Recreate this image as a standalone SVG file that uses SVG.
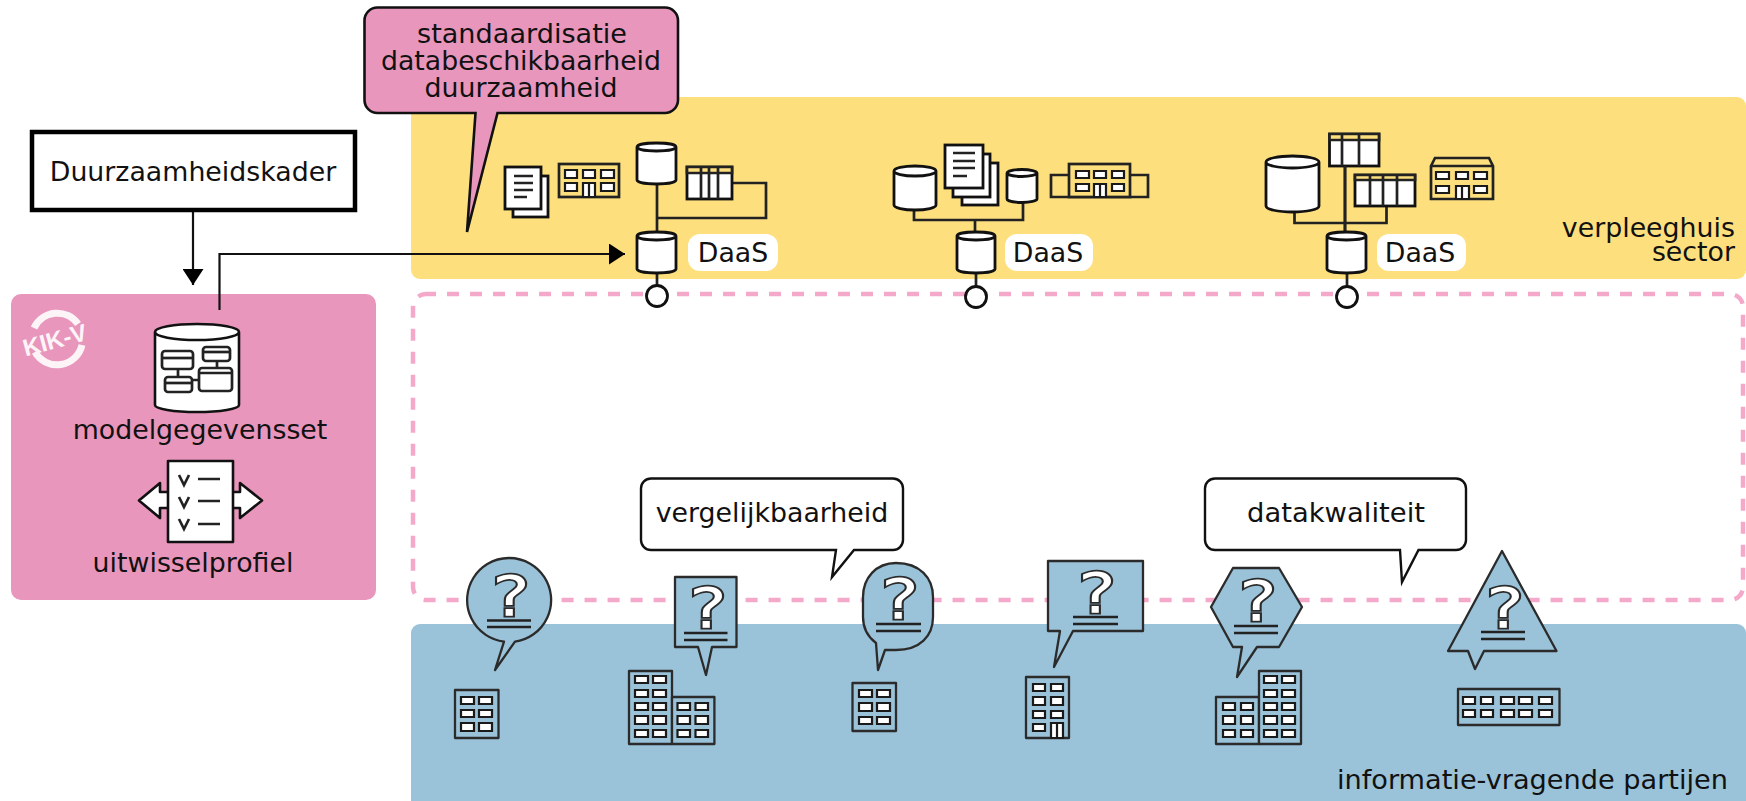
<svg xmlns="http://www.w3.org/2000/svg" width="1746" height="801" viewBox="0 0 1746 801">
<style>
.t{font-family:"DejaVu Sans",Verdana,sans-serif;font-size:26.8px;fill:#111;text-anchor:middle}
.e{text-anchor:end}
.k{fill:none;stroke:#111;stroke-width:2.2}
.w{fill:#fff;stroke:#111;stroke-width:2.6;stroke-linejoin:round}
.l{fill:none;stroke:#222;stroke-width:2.7}
.y{fill:#fedf7e;stroke:#222;stroke-width:2.7}
.b{fill:#9ac2d8;stroke:#2b2b2b;stroke-width:2.3;stroke-linejoin:round}
.win{fill:#fff;stroke:#1a1a1a;stroke-width:2.2}
.q{font-family:"DejaVu Sans",Verdana,sans-serif;font-size:56px;fill:#fff;stroke:#2b2b2b;stroke-width:3.4;paint-order:stroke;text-anchor:middle}
.c{fill:#fff;stroke:#111;stroke-width:2.8}
</style>
<defs><marker id="arrow" markerUnits="userSpaceOnUse" markerWidth="17" markerHeight="21" refX="16" refY="10.5" orient="auto"><path d="M0 0L16 10.5L0 21z" fill="#000"/></marker></defs>

<g id="regions">
<rect x="411" y="97" width="1335" height="182" rx="9" fill="#fedf7e"/>
<rect x="411" y="624" width="1335" height="190" rx="9" fill="#9ac2d8"/>
<rect x="413" y="294" width="1330" height="306" rx="13" fill="none" stroke="#f4a9cb" stroke-width="4.500" stroke-dasharray="12 11" stroke-dashoffset="2"/>
</g>

<g id="kikv">
<rect x="11" y="294" width="365" height="306" rx="10" fill="#e896bc"/>
<path d="M34 328A25.500 25.500 0 0 1 78 324M35 352A25.500 25.500 0 0 0 82 345" fill="none" stroke="#fdf4f8" stroke-width="7"/>
<text transform="translate(57 348) rotate(-15)" font-family="'Liberation Sans',Arial,sans-serif" font-weight="700" font-size="24" fill="#fdf4f8" text-anchor="middle">KIK-V</text>
</g>

<g id="connectors">
<path d="M193 210V285" class="k" marker-end="url(#arrow)"/>
<path d="M219.500 310V254H625" class="k" marker-end="url(#arrow)"/>
<path d="M657 184V232M657 273V286M657 218H766V183H732" class="l"/>
<path d="M914 210V220H1023V202M975 220V232M976 273V286" class="l"/>
<path d="M1294.500 212V223H1386.500V206M1345 166V232M1347 273V286" class="l"/>
</g>

<g id="duurzaamheidskader">
<rect x="32" y="132" width="323" height="78" fill="#fff" stroke="#000" stroke-width="4.500"/>
<text class="t" x="193" y="181">Duurzaamheidskader</text>
</g>

<g id="modelgegevensset">
<path d="M155 332V405A42 7 0 0 0 239 405V332A42 8 0 0 0 155 332A42 8 0 0 0 239 332" class="w"/>
<g class="l"><rect x="162" y="351" width="31" height="18" rx="3"/><path d="M162 358H193"/><rect x="203" y="347" width="27" height="14" rx="3"/><path d="M203 352H230"/><rect x="165" y="377" width="27" height="15" rx="3"/><path d="M165 383H192"/><rect x="199" y="368" width="33" height="23" rx="3"/><path d="M199 373H232M178 369V377M217 361V368M192 380H199"/></g>
<text class="t" x="200" y="439">modelgegevensset</text>
</g>

<g id="uitwisselprofiel">
<path d="M168 492H160V483L139 500.500L160 518V508H168M233 492H240V483L262 500.500L240 518V508H233" class="w"/>
<rect x="168" y="461" width="65" height="81" class="w"/>
<path d="M179 475L184 485L189 475M198 479H220M179 497L184 507L189 497M198 501H220M179 519L184 529L189 519M198 524H220" class="l"/>
<text class="t" x="193" y="572">uitwisselprofiel</text>
</g>

<g id="callout-standaardisatie">
<path d="M378 7.500H665A13 13 0 0 1 678 20.500V100A13 13 0 0 1 665 113H497.500L467 232L475.500 113H378A13 13 0 0 1 364.500 100V20.500A13 13 0 0 1 378 7.500Z" fill="#e896bc" stroke="#111" stroke-width="2.6"/>
<text class="t" x="522" y="43" textLength="210" lengthAdjust="spacingAndGlyphs">standaardisatie</text>
<text class="t" x="521" y="70" textLength="280" lengthAdjust="spacingAndGlyphs">databeschikbaarheid</text>
<text class="t" x="521" y="97" textLength="193" lengthAdjust="spacingAndGlyphs">duurzaamheid</text>
</g>

<g id="daas-1">
<rect x="513" y="176" width="35" height="41" class="c"/>
<rect x="505" y="167" width="36" height="42" class="c"/>
<path d="M514 176H533M514 183H533M514 190H533M514 197H527" class="l"/>
<rect x="559" y="164" width="60" height="33" class="y"/>
<path d="M565 170h12v8h-12zM583 170h12v8h-12zM601 170h13v8h-13zM565 183h12v8h-12zM601 183h13v8h-13zM583 183h12v14h-12zM589 183v14" class="win"/>
<path d="M637 147V180A19.500 4 0 0 0 676 180V147A19.500 4 0 0 0 637 147A19.500 4 0 0 0 676 147" class="c"/>
<rect x="687" y="167" width="45" height="32" class="c"/>
<path d="M687 167H732V173H687z" class="y"/>
<path d="M701 167V199M709 167V199M718 167V199" class="l"/>
<path d="M637 236V269A19.500 4 0 0 0 676 269V236A19.500 4 0 0 0 637 236A19.500 4 0 0 0 676 236" class="c"/>
<circle cx="657" cy="296" r="10.500" class="c"/>
<rect x="688" y="234" width="90" height="37" rx="12" fill="#fff"/>
<text class="t" x="733" y="262">DaaS</text>
</g>

<g id="daas-2">
<path d="M894 171V205A21 5 0 0 0 936 205V171A21 5 0 0 0 894 171A21 5 0 0 0 936 171" class="c"/>
<rect x="962" y="163" width="36" height="42" class="c"/>
<rect x="953" y="154" width="37" height="43" class="c"/>
<rect x="945" y="145" width="38" height="43" class="c"/>
<path d="M953 153H975M953 161H975M953 168H975M953 176H967" class="l"/>
<path d="M1007 173V199A15 3.500 0 0 0 1037 199V173A15 3.500 0 0 0 1007 173A15 3.500 0 0 0 1037 173" class="c"/>
<path d="M1051 175H1148V197H1051z" class="y"/>
<rect x="1069" y="164" width="61" height="33" class="y"/>
<path d="M1076 171h13v7h-13zM1094 171h12v7h-12zM1112 171h12v7h-12zM1076 184h13v7h-13zM1112 184h12v7h-12zM1094 184h12v13h-12zM1100 184v13" class="win"/>
<path d="M957 236V269A19 4 0 0 0 995 269V236A19 4 0 0 0 957 236A19 4 0 0 0 995 236" class="c"/>
<circle cx="976" cy="297" r="10.500" class="c"/>
<rect x="1005" y="234" width="88" height="37" rx="12" fill="#fff"/>
<text class="t" x="1048" y="262">DaaS</text>
</g>

<g id="daas-3">
<path d="M1266 162V206A26.500 6 0 0 0 1319 206V162A26.500 6 0 0 0 1266 162A26.500 6 0 0 0 1319 162" class="c"/>
<rect x="1329.500" y="134" width="49.500" height="32" class="c"/>
<path d="M1329.500 134H1379V140H1329.500z" class="y"/>
<path d="M1342 134V166M1359 134V166" class="l"/>
<rect x="1355" y="175" width="60" height="31" class="c"/>
<path d="M1355 175H1415V180H1355z" class="y"/>
<path d="M1370 175V206M1383 175V206M1397 175V206" class="l"/>
<path d="M1345 166V232" class="l"/>
<path d="M1431 166L1435 158H1489L1493 166V199H1431z" class="y"/>
<path d="M1431 166H1493" class="l"/>
<path d="M1436 172h13v7h-13zM1456 172h12v7h-12zM1474 172h13v7h-13zM1436 186h13v7h-13zM1474 186h13v7h-13zM1456 186h13v13h-13zM1462 186v13" class="win"/>
<path d="M1327 236V269A19.500 4 0 0 0 1366 269V236A19.500 4 0 0 0 1327 236A19.500 4 0 0 0 1366 236" class="c"/>
<circle cx="1347" cy="297" r="10.500" class="c"/>
<rect x="1377" y="234" width="89" height="37" rx="12" fill="#fff"/>
<text class="t" x="1420" y="262">DaaS</text>
</g>

<g id="label-sector">
<text class="t e" x="1735" y="237">verpleeghuis</text>
<text class="t e" x="1735" y="261">sector</text>
</g>

<g id="callout-vergelijkbaarheid">
<path d="M651 478.500H893A10 10 0 0 1 903 488.500V540A10 10 0 0 1 893 550H854L832 577L836 550H651A10 10 0 0 1 641 540V488.500A10 10 0 0 1 651 478.500Z" fill="#fff" stroke="#111" stroke-width="2.400"/>
<text class="t" x="772" y="522">vergelijkbaarheid</text>
</g>

<g id="callout-datakwaliteit">
<path d="M1215 478.500H1456A10 10 0 0 1 1466 488.500V540A10 10 0 0 1 1456 550H1418.500L1402 582L1400 550H1215A10 10 0 0 1 1205 540V488.500A10 10 0 0 1 1215 478.500Z" fill="#fff" stroke="#111" stroke-width="2.400"/>
<text class="t" x="1336" y="522" textLength="178" lengthAdjust="spacingAndGlyphs">datakwaliteit</text>
</g>

<g id="vraag-1">
<path d="M504 641.700A42 42 0 1 1 515 641.600L495 670Z" class="b"/>
<text class="q" x="511" y="615" textLength="38" lengthAdjust="spacingAndGlyphs">?</text>
<path d="M487 620.500H531M487 627H531" class="l"/>
<rect x="455" y="690" width="43.500" height="48" class="b"/>
<path d="M461 697h13v7h-13zM479 697h13v7h-13zM461 710h13v7h-13zM479 710h13v7h-13zM461 723h13v8h-13zM479 723h13v8h-13z" class="win"/>
</g>

<g id="vraag-2">
<path d="M675 577H736.500V647H712L706 675L698 647H675Z" class="b"/>
<text class="q" x="708" y="627" textLength="38" lengthAdjust="spacingAndGlyphs">?</text>
<path d="M684 633H727.500M684 640H727.500" class="l"/>
<rect x="629" y="671" width="43" height="73" class="b"/>
<rect x="672" y="697" width="42.400" height="47" class="b"/>
<path d="M635 676h13v7h-13zM653 676h13v7h-13zM635 690h13v7h-13zM653 690h13v7h-13zM635 703h13v7h-13zM653 703h13v7h-13zM635 716h13v8h-13zM653 716h13v8h-13zM635 730h13v7h-13zM653 730h13v7h-13zM677.500 703h12.500v7h-12.500zM695.500 703h12.500v7h-12.500zM677.500 716h12.500v8h-12.500zM695.500 716h12.500v8h-12.500zM677.500 730h12.500v7h-12.500zM695.500 730h12.500v7h-12.500z" class="win"/>
</g>

<g id="vraag-3">
<path d="M896 563C920 563 933 578 933 597V617C933 636 920 650 896 650H885L878 670L876 643C868 637 863 628 863 617V597C863 578 876 563 896 563Z" class="b"/>
<text class="q" x="900" y="618" textLength="38" lengthAdjust="spacingAndGlyphs">?</text>
<path d="M876 624H921M876 631H921" class="l"/>
<rect x="852.500" y="683" width="43.500" height="48" class="b"/>
<path d="M859 690h13v7h-13zM877 690h13v7h-13zM859 703h13v8h-13zM877 703h13v8h-13zM859 717h13v7h-13zM877 717h13v7h-13z" class="win"/>
</g>

<g id="vraag-4">
<path d="M1048 561H1143V631H1073L1054 667L1060 631H1048Z" class="b"/>
<text class="q" x="1097" y="612" textLength="38" lengthAdjust="spacingAndGlyphs">?</text>
<path d="M1073 617H1118M1073 624H1118" class="l"/>
<rect x="1026" y="677" width="43" height="61" class="b"/>
<path d="M1033 684h12v7h-12zM1051 684h12v7h-12zM1033 697h12v8h-12zM1051 697h12v8h-12zM1033 711h12v7h-12zM1051 711h12v7h-12zM1033 724h12v7h-12zM1051 723h12v15h-12zM1057 723v15" class="win"/>
</g>

<g id="vraag-5">
<path d="M1233 568H1279L1302 607L1279 647H1257L1237 677L1242 647H1233L1211 607Z" class="b"/>
<text class="q" x="1258" y="620" textLength="38" lengthAdjust="spacingAndGlyphs">?</text>
<path d="M1234 626H1278M1234 633H1278" class="l"/>
<rect x="1216" y="697" width="43" height="47" class="b"/>
<rect x="1259" y="671" width="42" height="73" class="b"/>
<path d="M1223 703h12v7h-12zM1241 703h12v7h-12zM1223 716h12v8h-12zM1241 716h12v8h-12zM1223 730h12v7h-12zM1241 730h12v7h-12zM1264 676h13v7h-13zM1282 676h13v7h-13zM1264 690h13v7h-13zM1282 690h13v7h-13zM1264 703h13v7h-13zM1282 703h13v7h-13zM1264 716h13v8h-13zM1282 716h13v8h-13zM1264 730h13v7h-13zM1282 730h13v7h-13z" class="win"/>
</g>

<g id="vraag-6">
<path d="M1502 551L1556.500 651H1484L1475 669L1468 651H1448Z" class="b"/>
<text class="q" x="1505" y="627" textLength="38" lengthAdjust="spacingAndGlyphs">?</text>
<path d="M1481 632H1525M1481 639H1525" class="l"/>
<rect x="1458" y="689" width="101.500" height="36" class="b"/>
<path d="M1463 697h12v7h-12zM1481 697h12v7h-12zM1501 697h13v7h-13zM1519 697h13v7h-13zM1539 697h13v7h-13zM1463 710h12v7h-12zM1481 710h12v7h-12zM1501 710h13v7h-13zM1519 710h13v7h-13zM1539 710h13v7h-13z" class="win"/>
</g>

<text class="t e" x="1728" y="789" textLength="391" lengthAdjust="spacingAndGlyphs">informatie-vragende partijen</text>
</svg>
